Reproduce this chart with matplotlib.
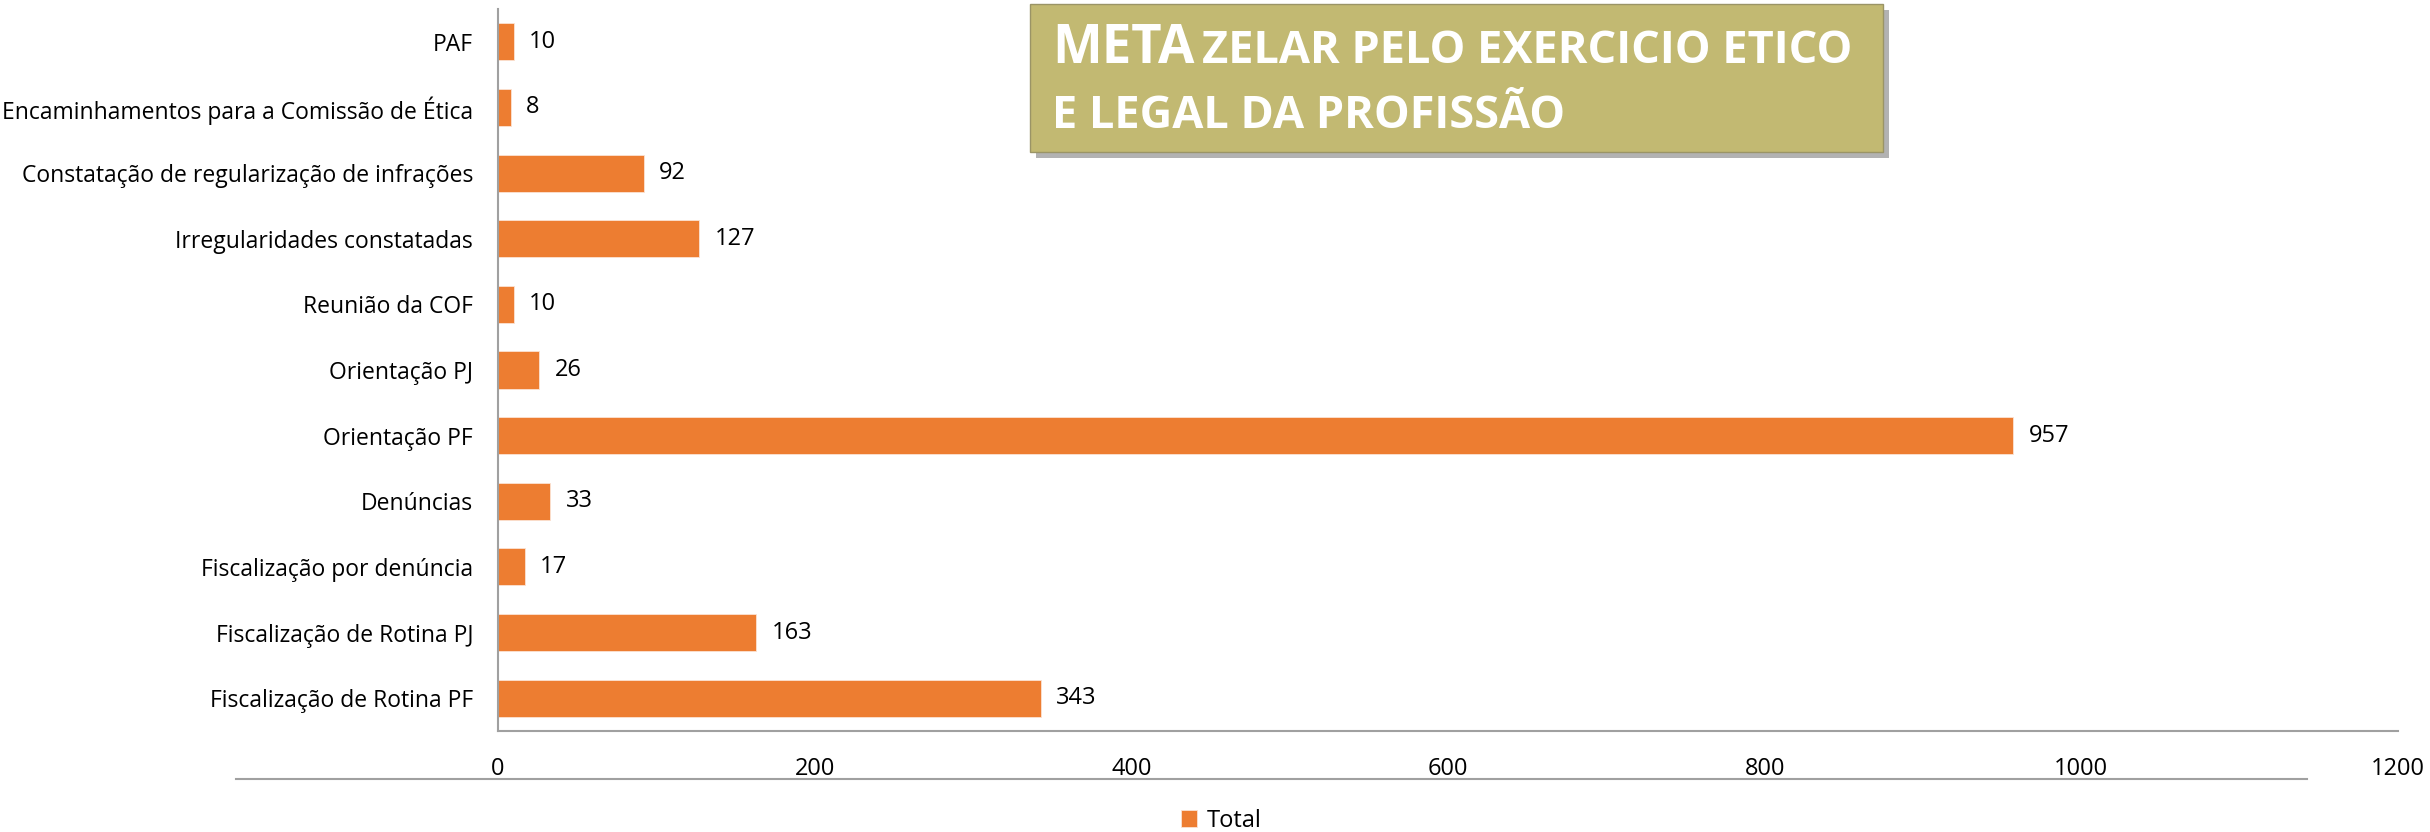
import matplotlib
matplotlib.use('Agg')
import matplotlib.pyplot as plt
import matplotlib.patheffects as pe
from matplotlib.patches import Rectangle
from matplotlib.lines import Line2D

# dados (de baixo para cima)
categorias = ['Fiscalização de Rotina PF', 'Fiscalização de Rotina PJ',
              'Fiscalização por denúncia', 'Denúncias', 'Orientação PF',
              'Orientação PJ', 'Reunião da COF', 'Irregularidades constatadas',
              'Constatação de regularização de infrações',
              'Encaminhamentos para a Comissão de Ética', 'PAF']
totais = [343, 163, 17, 33, 957, 26, 10, 127, 92, 8, 10]
ticks_x = [0, 200, 400, 600, 800, 1000, 1200]
serie = 'Total'

plt.rcParams['font.family'] = ['Open Sans', 'DejaVu Sans']

W, H = 2430, 832
fig = plt.figure(figsize=(W / 100, H / 100), dpi=100)
ax = fig.add_axes([498 / W, 1 - 731 / H, (2398 - 498) / W, (731 - 9) / H])

laranja = '#ED7D31'
cinza = '#A0A0A0'
fs = 17

barras = ax.barh(range(len(categorias)), totais, height=0.564, color=laranja,
                 edgecolor='#FBE3D3', linewidth=0.6, label=serie)
ax.bar_label(barras, padding=11, fontsize=fs, color='black')

ax.set_xlim(0, 1200)
ax.set_ylim(-0.5, len(categorias) - 0.5)
ax.set_yticks(range(len(categorias)))
ax.set_yticklabels(categorias, fontsize=16.5)
ax.set_xticks(ticks_x)
ax.set_xticklabels([str(t) for t in ticks_x], fontsize=fs)
ax.tick_params(axis='y', length=0, pad=18)
ax.tick_params(axis='x', length=0, pad=19)
for s in ['top', 'right']:
    ax.spines[s].set_visible(False)
for s in ['left', 'bottom']:
    ax.spines[s].set_color(cinza)
    ax.spines[s].set_linewidth(1.5)

# linha cinza abaixo dos rotulos do eixo
fig.add_artist(Line2D([236 / W, 2307 / W], [1 - 779 / H, 1 - 779 / H],
                      color=cinza, lw=1.5))

# legenda
fig.legend(handles=[barras], labels=[serie], loc='center',
           bbox_to_anchor=(1221 / W, 1 - 821 / H), frameon=False,
           fontsize=fs, handlelength=0.7, handleheight=0.7,
           handletextpad=0.4, borderpad=0)

# caixa do titulo
caixa = Rectangle((1030 / W, 1 - 152 / H), (1883 - 1030) / W, 148 / H,
                  transform=fig.transFigure, facecolor='#C2B972',
                  edgecolor='#9A9466', lw=1, zorder=5)
caixa.set_path_effects([pe.SimplePatchShadow(offset=(4, -4), shadow_rgbFace='#555555', alpha=0.45),
                        pe.Normal()])
fig.add_artist(caixa)
fig.text(1052 / W, 1 - 63 / H, 'META', fontsize=38, fontweight='bold',
         color='white', ha='left', va='baseline', zorder=6)
fig.text(1202 / W, 1 - 63 / H, 'ZELAR PELO EXERCICIO ETICO', fontsize=32.5,
         fontweight='bold', color='white', ha='left', va='baseline', zorder=6)
fig.text(1052 / W, 1 - 128 / H, 'E LEGAL DA PROFISSÃO', fontsize=32.5,
         fontweight='bold', color='white', ha='left', va='baseline', zorder=6)

fig.savefig('out.png', dpi=100)
